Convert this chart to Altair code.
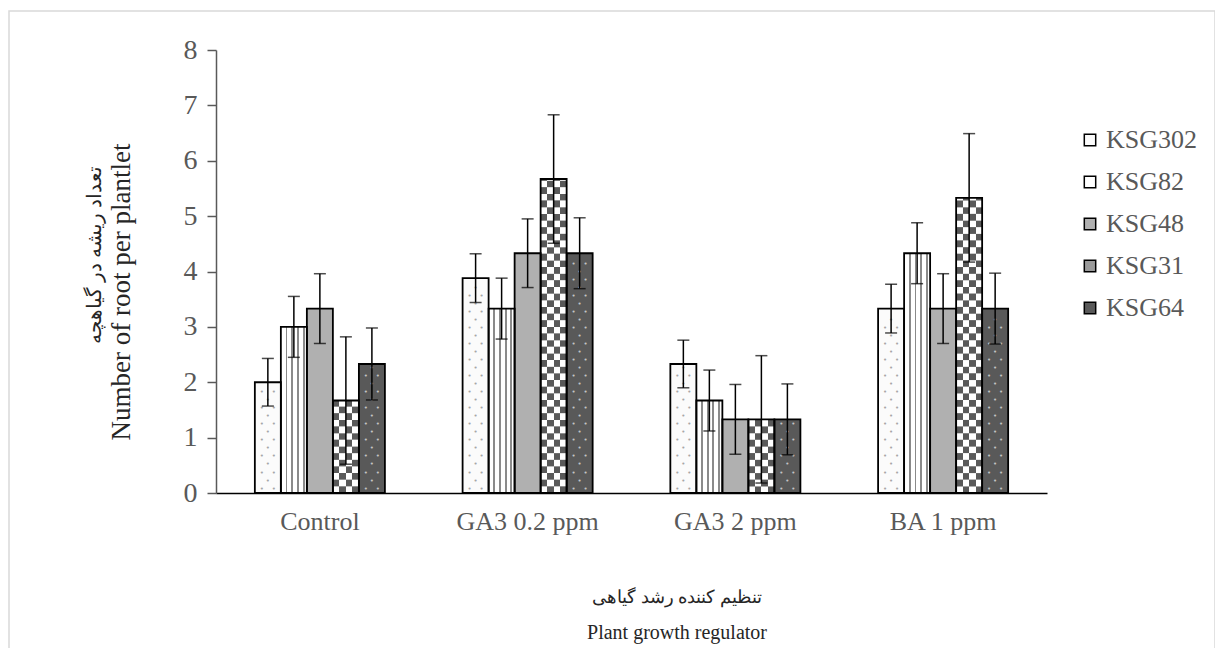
import altair as alt
import pandas as pd

groups = ["Control", "GA3 0.2 ppm", "GA3 2 ppm", "BA 1 ppm"]
series = ["KSG302", "KSG82", "KSG48", "KSG31", "KSG64"]

# values per series, in group order
v_ksg302 = [2.00, 3.88, 2.33, 3.33]
v_ksg82 = [3.00, 3.33, 1.67, 4.33]
v_ksg48 = [3.33, 4.33, 1.33, 3.33]
v_ksg31 = [1.67, 5.67, 1.33, 5.33]
v_ksg64 = [2.33, 4.33, 1.33, 3.33]

# error (half-length) per series, in group order
e_ksg302 = [0.43, 0.44, 0.43, 0.44]
e_ksg82 = [0.55, 0.55, 0.55, 0.55]
e_ksg48 = [0.63, 0.62, 0.63, 0.63]
e_ksg31 = [1.15, 1.16, 1.15, 1.16]
e_ksg64 = [0.65, 0.64, 0.64, 0.64]

fills = ["#fbfbfb", "#ffffff", "#b0b0b0", "#9a9a9a", "#595959"]

vals = [v_ksg302, v_ksg82, v_ksg48, v_ksg31, v_ksg64]
errs = [e_ksg302, e_ksg82, e_ksg48, e_ksg31, e_ksg64]

rows = []
for s, vs, es in zip(series, vals, errs):
    for g, v, e in zip(groups, vs, es):
        rows.append({"group": g, "series": s, "value": v, "lo": v - e, "hi": v + e})
df = pd.DataFrame(rows)

# checkerboard segments for KSG31 (built from its values)
seg_h = 0.12
seg_rows = []
for g, v in zip(groups, v_ksg31):
    k = 0
    y = 0.0
    while y < v - 1e-9:
        seg_rows.append({"group": g, "series": "KSG31", "y0": y, "y1": min(y + seg_h, v), "phase": k % 2})
        y += seg_h
        k += 1
seg = pd.DataFrame(seg_rows)

# dot texture for KSG302 and KSG64 (built from their values)
dot_step = 0.145
dot_rows = []
for s, vs in [("KSG302", v_ksg302), ("KSG64", v_ksg64)]:
    for g, v in zip(groups, vs):
        k = 0
        y = 0.08
        while y < v - 0.06:
            cols = [-1, 1] if k % 2 == 0 else [0]
            for c in cols:
                dot_rows.append({"group": g, "series": s, "y": y, "col": c})
            y += dot_step
            k += 1
dots = pd.DataFrame(dot_rows)

FONT = "Liberation Serif"
GRAY_TXT = "#595959"

x_enc = alt.X("group:N", sort=groups,
              scale=alt.Scale(domain=groups, paddingInner=0.374, paddingOuter=0.187),
              axis=alt.Axis(title=None, labelAngle=0, labelFont=FONT, labelFontSize=26,
                            labelColor=GRAY_TXT, ticks=False, domainColor="#000000",
                            domainWidth=1.5, labelPadding=15))
xo_enc = alt.XOffset("series:N", sort=series,
                     scale=alt.Scale(domain=series, paddingInner=0, paddingOuter=0))
y_scale = alt.Scale(domain=[0, 8], nice=False)

base = alt.Chart(df)

bars = base.mark_bar(strokeWidth=0).encode(
    x=x_enc,
    xOffset=xo_enc,
    y=alt.Y("value:Q", scale=y_scale,
            axis=alt.Axis(title=None, values=[0, 1, 2, 3, 4, 5, 6, 7, 8], grid=False, format="d",
                          labelFont=FONT, labelFontSize=28, labelColor=GRAY_TXT,
                          domainColor="#595959", domainWidth=1.5, tickColor="#595959",
                          tickSize=9, tickWidth=1.5, labelPadding=10)),
    color=alt.Color("series:N", sort=series,
                    scale=alt.Scale(domain=series, range=fills),
                    legend=alt.Legend(title=None, orient="none", legendX=861, legendY=77,
                                      labelFont=FONT, labelFontSize=26, labelColor=GRAY_TXT,
                                      symbolType="square", symbolSize=130,
                                      symbolStrokeColor="#000000", symbolStrokeWidth=1.5,
                                      symbolOpacity=1, rowPadding=16, labelOffset=3)),
)

stripe_stops = [("#ffffff", 0.0)]
for c in [0.18, 0.40, 0.62, 0.84]:
    stripe_stops += [("#ffffff", c), ("#8a8a8a", c), ("#8a8a8a", c + 0.07), ("#ffffff", c + 0.07)]
stripe_stops.append(("#ffffff", 1.0))
stripes = alt.Gradient(gradient="linear", x1=0, x2=1, y1=0, y2=0,
                       stops=[alt.GradientStop(color=c, offset=o) for c, o in stripe_stops])

ksg82 = base.transform_filter(alt.datum.series == "KSG82").mark_bar(fill=stripes, strokeWidth=0).encode(
    x=x_enc, xOffset=xo_enc, y=alt.Y("value:Q", scale=y_scale))


def checker(first, second):
    st = []
    cols = [first, second, first, second]
    for i, c in enumerate(cols):
        st += [alt.GradientStop(color=c, offset=i / 4), alt.GradientStop(color=c, offset=(i + 1) / 4)]
    return alt.Gradient(gradient="linear", x1=0, x2=1, y1=0, y2=0, stops=st)


segbase = alt.Chart(seg)
chkA = segbase.transform_filter(alt.datum.phase == 0).mark_bar(fill=checker("#ffffff", "#595959"), strokeWidth=0).encode(
    x=x_enc, xOffset=xo_enc, y=alt.Y("y0:Q", scale=y_scale), y2="y1:Q")
chkB = segbase.transform_filter(alt.datum.phase == 1).mark_bar(fill=checker("#595959", "#ffffff"), strokeWidth=0).encode(
    x=x_enc, xOffset=xo_enc, y=alt.Y("y0:Q", scale=y_scale), y2="y1:Q")

dotbase = alt.Chart(dots)
dot_layers = []
for c, dx in [(-1, -6), (0, 0), (1, 6)]:
    dot_layers.append(
        dotbase.transform_filter(alt.datum.col == c).mark_text(
            text="•", fontSize=7, dx=dx, baseline="middle", align="center", font="DejaVu Sans"
        ).encode(
            x=x_enc, xOffset=xo_enc, y=alt.Y("y:Q", scale=y_scale),
            color=alt.condition(alt.datum.series == "KSG64", alt.value("#c4c4c4"), alt.value("#a6a6a6")),
        )
    )

outline = base.mark_bar(fillOpacity=0, stroke="#000000", strokeWidth=1.8).encode(
    x=x_enc, xOffset=xo_enc, y=alt.Y("value:Q", scale=y_scale))

err_rule = base.mark_rule(color="#000000", strokeWidth=1.5).encode(
    x=x_enc, xOffset=xo_enc, y=alt.Y("lo:Q", scale=y_scale), y2="hi:Q")
cap_lo = base.mark_tick(color="#000000", thickness=1.5, size=12, orient="horizontal").encode(
    x=x_enc, xOffset=xo_enc, y=alt.Y("lo:Q", scale=y_scale))
cap_hi = base.mark_tick(color="#000000", thickness=1.5, size=12, orient="horizontal").encode(
    x=x_enc, xOffset=xo_enc, y=alt.Y("hi:Q", scale=y_scale))

one = pd.DataFrame({"k": [0]})
txt = alt.Chart(one)
ytitle_en = txt.mark_text(font=FONT, fontSize=27, color="#262626", angle=270, align="center", baseline="middle").encode(
    x=alt.value(-94), y=alt.value(242), text=alt.value("Number of  root per plantlet"))
ytitle_fa = txt.mark_text(font=FONT, fontSize=20, color="#262626", angle=270, align="center", baseline="middle").encode(
    x=alt.value(-121), y=alt.value(205), text=alt.value("تعداد ریشه در گیاهچه"))
xtitle_fa = txt.mark_text(font=FONT, fontSize=18, color="#262626", align="center", baseline="middle").encode(
    x=alt.value(461), y=alt.value(548), text=alt.value("تنظیم کننده رشد گیاهی"))
xtitle_en = txt.mark_text(font=FONT, fontSize=20, color="#262626", align="center", baseline="middle").encode(
    x=alt.value(461), y=alt.value(583), text=alt.value("Plant growth regulator"))
frame = txt.mark_rect(fill="transparent", stroke="#d9d9d9", strokeWidth=1.5).encode(
    x=alt.value(-207), x2=alt.value(999), y=alt.value(-39), y2=alt.value(640))

chart = alt.layer(
    frame, bars, ksg82, chkA, chkB, *dot_layers, outline, err_rule, cap_lo, cap_hi,
    ytitle_en, ytitle_fa, xtitle_fa, xtitle_en
).properties(
    width=831, height=443,
    padding={"left": 208, "top": 42, "right": 168, "bottom": 155},
    autosize=alt.AutoSizeParams(type="none"),
).configure(
    background="#ffffff", font=FONT
).configure_view(
    stroke=None
).configure_legend(
    labelFont=FONT
)

chart.save("out.html", embed_options={"renderer": "svg", "actions": False})
